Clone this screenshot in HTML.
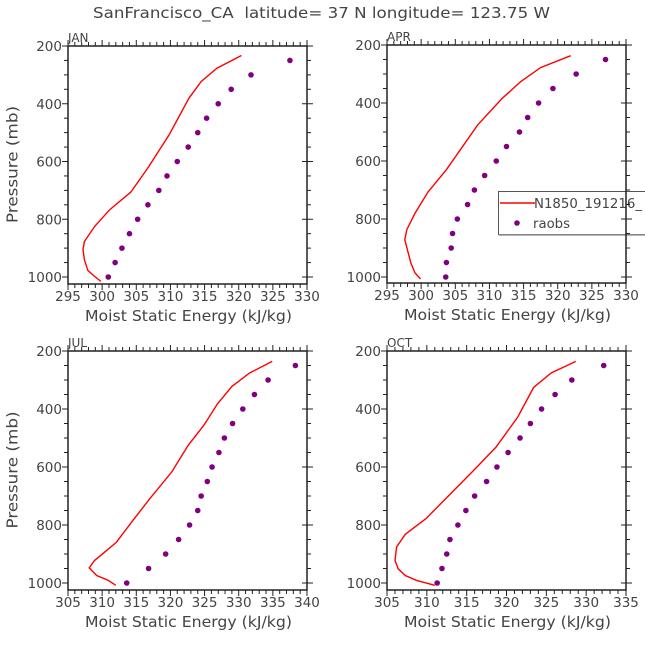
<!DOCTYPE html>
<html><head><meta charset="utf-8"><style>
body{margin:0;background:#fff;}
svg text{font-family:"DejaVu Sans","Liberation Sans",sans-serif;fill:#444;}
</style></head><body>
<svg id="c" width="645" height="640" viewBox="0 0 645 640" xmlns="http://www.w3.org/2000/svg">
<text x="93" y="18" font-size="15" textLength="457" lengthAdjust="spacingAndGlyphs" xml:space="preserve">SanFrancisco_CA  latitude= 37 N longitude= 123.75 W</text>
</svg>
<script>
const obsP=[250,300,350,400,450,500,550,600,650,700,750,800,850,900,950,1000];
const janModelP=[233,277,323,381,508,622,706,767,825,877,905,940,977,998,1015];
const janModel=[320.4,316.8,314.5,312.7,309.8,306.7,304.2,301.1,298.9,297.4,297.2,297.4,297.9,298.9,299.8];
const janObs=[327.5,321.8,318.9,317.0,315.3,314.0,312.6,311.0,309.5,308.3,306.7,305.2,304.0,302.9,301.9,300.9];
const aprModelP=[237,278,326,386,475,630,707,780,837,871,917,952,986,1007];
const aprModel=[321.9,317.5,314.6,311.8,308.3,303.7,301.0,299.1,297.9,297.6,298.1,298.5,299.1,299.9];
const aprObs=[327.0,322.7,319.3,317.2,315.6,314.4,312.5,311.0,309.3,307.8,306.8,305.3,304.6,304.4,303.7,303.6];
const julModelP=[236,276,322,382,456,525,617,709,784,859,899,922,948,974,991,1008];
const julModel=[334.9,331.6,329.0,326.9,324.9,322.6,320.2,317.0,314.5,312.1,310.1,308.9,308.1,309.2,310.9,312.0];
const julObs=[338.3,334.3,332.3,330.6,329.1,327.9,327.1,326.1,325.4,324.5,324.0,322.8,321.2,319.3,316.8,313.6];
const octModelP=[236,276,326,428,531,617,703,778,832,876,922,951,974,991,1008];
const octModel=[328.7,325.6,323.4,321.4,318.7,315.7,312.6,309.9,307.3,306.2,306.0,306.4,307.3,308.7,311.0];
const octObs=[332.2,328.2,326.1,324.4,323.0,321.7,320.2,318.8,317.5,316.0,314.9,313.9,312.9,312.5,311.9,311.3];
const panelNames=["JAN","APR","JUL","OCT"];
const xMins=[295,295,305,305];
const xMaxs=[330,330,340,335];
const yTicks=[200,400,600,800,1000];

const NS="http://www.w3.org/2000/svg";
const svg=document.getElementById('c');
function mk(tag,attrs,parent){const e=document.createElementNS(NS,tag);for(const k in attrs)e.setAttribute(k,attrs[k]);(parent||svg).appendChild(e);return e;}

const layout=[{x0:68,x1:307,y0:46,yp:277,yb:284},{x0:387,x1:626,y0:45,yp:277,yb:283},
{x0:68,x1:307,y0:351,yp:583,yb:590},{x0:387,x1:626,y0:351,yp:583,yb:590}];
const models=[[janModelP,janModel],[aprModelP,aprModel],[julModelP,julModel],[octModelP,octModel]];
const obs=[janObs,aprObs,julObs,octObs];

for(let i=0;i<4;i++){
 const L=layout[i],xmin=xMins[i],xmax=xMaxs[i];
 const g=mk('g',{});
 
 
 const X=v=>L.x0+(v-xmin)/(xmax-xmin)*(L.x1-L.x0);
 const Y=p=>L.y0+(p-200)/800*(L.yp-L.y0);
 const [mp,mv]=models[i];
 const pts=mp.map((p,k)=>X(mv[k]).toFixed(1)+','+Y(p).toFixed(1)).join(' ');
 const pl=mk('polyline',{points:pts,fill:'none',stroke:'#f00','stroke-width':1.4},g);
 
 
 obs[i].forEach((v,k)=>{
  const c=mk('circle',{cx:X(v),cy:Y(obsP[k]),r:2.8,fill:'#800080'},g);
  
  
 });
 if(i===1){
  const lg=mk('g',{},g);
  
  
  mk('rect',{x:498.5,y:191.5,width:160,height:43,fill:'#fff',stroke:'#555','stroke-width':1},lg);
  mk('line',{x1:499,y1:235,x2:645,y2:235,stroke:'#999','stroke-width':1.5},lg);
  mk('line',{x1:500,y1:203,x2:535,y2:203,stroke:'#f00','stroke-width':1.4},lg);
  const t1=mk('text',{x:534,y:208,'font-size':13,textLength:108,lengthAdjust:'spacingAndGlyphs'},lg);t1.textContent='N1850_191216_';
  
  
  mk('circle',{cx:517,cy:223,r:2.8,fill:'#800080'},lg);
  const t2=mk('text',{x:533,y:228,'font-size':13,textLength:37,lengthAdjust:'spacingAndGlyphs'},lg);t2.textContent='raobs';
  
  
 }
 mk('rect',{x:L.x0,y:L.y0,width:L.x1-L.x0,height:L.yb-L.y0,fill:'none',stroke:'#222','stroke-width':1.5},g);
 for(let p=200;p<=1000;p+=50){
  const maj=p%200===0,len=maj?6:4,y=Y(p);
  mk('line',{x1:L.x0-len,y1:y,x2:L.x0,y2:y,stroke:'#222','stroke-width':1},g);
  mk('line',{x1:L.x1-(maj?5:0),y1:y,x2:L.x1+len,y2:y,stroke:'#222','stroke-width':1},g);
 }
 yTicks.forEach(p=>{
  const t=mk('text',{x:L.x0-6,y:Y(p)+5,'font-size':13.5,'text-anchor':'end'},g);t.textContent=p;
  
  
 });
 for(let v=xmin;v<=xmax;v++){
  const maj=v%5===0,len=maj?6:4,x=X(v);
  mk('line',{x1:x,y1:L.yb,x2:x,y2:L.yb+len,stroke:'#222','stroke-width':1},g);
  mk('line',{x1:x,y1:L.y0-len,x2:x,y2:L.y0,stroke:'#222','stroke-width':1},g);
  if(maj){
   const t=mk('text',{x:x,y:L.yb+17,'font-size':13.5,'text-anchor':'middle'},g);t.textContent=v;
   
   
  }
 }
 const xl=mk('text',{x:L.x0+17,y:L.yb+37,'font-size':15,textLength:207,lengthAdjust:'spacingAndGlyphs'},g);
 xl.textContent='Moist Static Energy (kJ/kg)';
 
 
 const pn=mk('text',{x:L.x0,y:L.y0-4,'font-size':12},g);pn.textContent=panelNames[i];
 
 
 if(i%2===0){
  const cy=(L.y0+L.yb)/2;
  const yl=mk('text',{x:13,y:cy+58,'font-size':15,transform:'rotate(-90 13 '+(cy+58)+')','dominant-baseline':'middle',textLength:117,lengthAdjust:'spacingAndGlyphs'},g);
  yl.textContent='Pressure (mb)';
  
  
 }
}
</script>
</body></html>
